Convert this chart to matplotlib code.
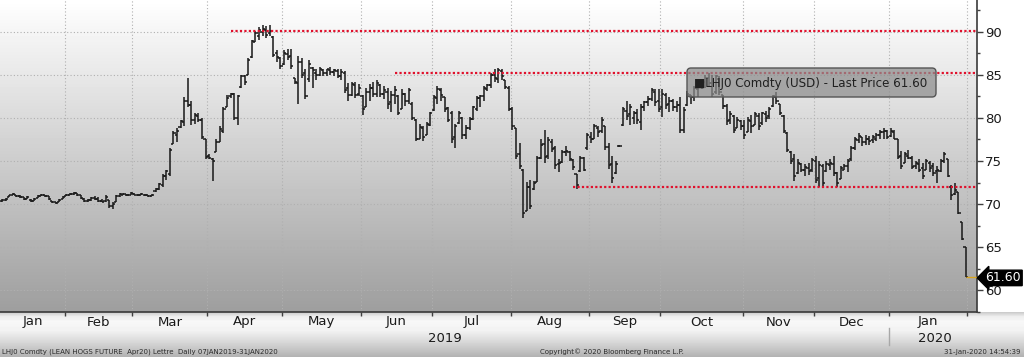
import numpy as np
import matplotlib
matplotlib.use("Agg")
import matplotlib.pyplot as plt
import matplotlib.transforms as mtransforms
from matplotlib.collections import LineCollection
from matplotlib.patches import FancyBboxPatch
from matplotlib.lines import Line2D

# ---------------- data: daily OHLC bars (open, high, low, close) ----------------
jan19 = [(70.4,70.6,70.3,70.5),(70.5,70.7,70.4,70.6),(70.8,71.1,70.8,71.0),(71.0,71.3,71.0,71.2),
         (71.1,71.1,70.8,70.9),(70.9,71.0,70.7,70.8),(70.8,70.8,70.5,70.6),(70.6,70.9,70.6,70.8),
         (70.5,70.6,70.3,70.4),(70.4,70.7,70.4,70.6),(70.7,71.0,70.7,70.9),(70.9,71.2,70.9,71.1),
         (71.1,71.1,70.8,70.9),(70.9,70.9,70.5,70.6),(70.4,70.4,70.1,70.2),(70.2,70.3,70.0,70.1),
         (70.3,70.6,70.3,70.5),(70.6,70.9,70.6,70.8)]
feb19 = [(70.9,71.2,70.9,71.1),(71.1,71.3,71.0,71.2),(71.2,71.4,71.1,71.3),(71.3,71.3,70.9,71.0),
         (71.0,71.0,70.6,70.7),(70.6,70.7,70.3,70.4),(70.4,70.6,70.3,70.5),(70.5,70.8,70.4,70.7),
         (70.7,70.9,70.5,70.6),(70.6,70.8,70.3,70.4),(70.4,70.6,70.2,70.3),(70.4,71.0,70.3,70.8),
         (70.5,70.5,69.6,69.8),(69.8,70.2,69.4,70.0),(70.2,71.0,70.2,70.9),(70.9,71.3,70.8,71.2),
         (71.1,71.3,71.0,71.2),(71.1,71.2,70.9,71.0),(71.1,71.4,71.0,71.3)]
mar19 = [(71.2,71.3,71.0,71.1),(71.1,71.2,70.9,71.0),(71.0,71.3,71.0,71.2),(71.1,71.2,70.9,71.0),
         (71.0,71.1,70.8,70.9),(70.9,71.2,70.9,71.1),(71.5,71.9,71.4,71.8),(71.8,72.4,71.6,72.3),
         (72.2,73.5,72.0,73.3),(73.2,74.0,72.8,73.8),(73.5,76.5,73.3,76.3),(77.0,78.5,77.0,78.2),
         (78.0,78.8,77.2,78.5),(78.9,79.8,78.8,79.6),(79.5,82.4,79.0,82.0),(82.0,84.6,81.2,81.5),
         (81.5,82.0,79.2,79.8),(79.8,80.6,79.3,80.3),(80.2,80.5,79.5,79.8),(79.8,80.0,77.5,77.8),
         (77.5,77.5,75.2,75.5)]
apr19 = [(75.6,75.8,75.2,75.4),(75.2,75.4,72.7,75.0),(76.0,77.5,76.0,77.2),(77.2,79.0,77.2,78.7),
         (78.5,81.2,78.2,81.0),(81.2,82.7,81.2,82.3),(82.5,82.9,82.3,82.8),(82.8,82.9,79.7,80.0),
         (80.0,82.7,79.2,82.5),(83.6,85.0,83.5,84.8),(84.8,85.0,83.8,84.2),(85.0,86.9,85.0,86.7),
         (87.0,89.0,86.9,88.9),(88.8,90.1,88.8,89.8),(89.5,90.5,89.0,90.2),(90.0,90.8,89.5,90.3),
         (90.2,90.6,89.3,89.6),(89.8,90.7,89.5,90.1),(89.4,89.5,87.0,87.3),(87.5,87.8,86.5,87.0),
         (86.9,87.0,85.6,86.0)]
may19 = [(86.2,87.8,86.1,87.5),(87.4,88.0,86.7,87.0),(87.2,88.0,85.7,86.0),(84.6,84.6,83.9,84.2),
         (84.0,87.2,81.6,86.5),(86.5,86.9,84.6,85.0),(85.2,85.7,82.2,82.5),(84.5,86.7,84.2,86.2),
         (85.8,85.9,83.5,85.5),(85.2,85.6,84.4,85.0),(85.0,85.9,84.8,85.7),(85.5,85.7,84.8,85.2),
         (85.2,85.7,84.8,85.6),(85.5,85.9,85.0,85.3),(85.3,85.7,84.8,85.5),(85.4,85.6,84.6,84.8),
         (84.9,85.6,84.4,85.3),(85.2,85.4,82.9,83.2),(83.5,84.0,82.0,82.6),(82.7,84.2,82.5,83.9),
         (83.8,84.2,82.3,82.6),(82.8,83.9,82.5,83.5)]
jun19 = [(82.5,82.7,80.3,81.0),(81.2,83.5,81.2,83.0),(83.0,83.9,82.0,83.5),(83.4,84.2,82.4,82.8),
         (82.8,84.4,82.4,84.0),(83.8,83.9,82.4,82.8),(82.8,83.7,82.2,83.2),(83.0,83.5,81.0,81.6),
         (81.8,83.1,80.7,82.6),(82.6,83.7,81.6,83.2),(82.5,82.6,80.3,80.6),(81.0,83.3,81.0,82.8),
         (82.8,82.9,81.4,82.0),(82.0,83.5,81.6,83.2),(81.6,81.8,79.7,80.0),(79.8,79.9,77.3,77.6),
         (77.6,79.3,77.5,78.9),(78.8,79.1,77.3,77.8),(78.0,79.5,78.0,79.3),(79.2,80.7,79.0,80.5)]
jul19 = [(80.9,82.7,80.8,82.4),(82.3,83.7,81.6,83.3),(83.2,83.5,82.0,82.6),(82.4,82.4,80.7,81.0),
         (81.1,81.2,79.5,79.8),(80.5,80.8,77.1,77.5),(77.8,79.3,76.5,79.0),(79.4,80.8,79.3,80.5),
         (80.0,80.1,77.6,78.0),(78.0,79.2,77.6,78.8),(78.8,80.1,78.6,79.9),(79.9,81.4,79.7,81.2),
         (81.0,82.5,80.8,82.3),(82.3,82.7,81.2,82.5),(82.5,83.7,82.0,83.5),(83.3,83.9,83.1,83.8),
         (83.8,85.2,83.5,85.0),(85.0,85.6,84.2,84.6),(84.5,85.8,84.0,85.5),(85.4,85.6,84.4,84.8),
         (84.4,84.4,83.3,83.6),(83.5,83.7,80.8,81.0)]
aug19 = [(81.0,81.2,78.6,79.0),(78.8,78.8,75.2,75.6),(75.8,77.1,74.1,74.4),(74.0,74.1,68.4,69.0),
         (69.2,72.6,69.2,72.0),(72.0,72.8,69.4,69.8),(71.8,72.7,71.6,72.5),(72.6,75.6,72.6,75.4),
         (75.4,77.5,75.2,76.8),(77.0,78.6,74.8,75.5),(75.6,77.8,75.2,77.4),(77.2,77.5,76.0,76.4),
         (76.5,76.7,74.1,74.5),(74.6,75.2,73.7,74.8),(74.9,76.3,74.8,76.0),(76.0,76.7,75.6,76.2),
         (76.0,76.1,75.0,75.2),(75.1,75.2,74.0,74.3),(73.5,73.5,71.8,72.2),(73.8,75.6,73.7,75.4),
         (75.4,75.5,73.8,74.0),(76.5,78.2,76.3,78.0)]
sep19 = [(77.8,78.4,77.1,77.6),(77.6,79.3,77.5,79.0),(78.8,79.1,77.8,78.3),(78.5,80.1,78.2,79.8),
         (79.0,79.0,76.3,76.6),(76.6,77.1,74.1,74.5),(74.6,75.6,72.4,73.0),(73.6,75.0,73.5,74.6),
         (76.7,76.8,76.6,76.7),(79.2,81.2,79.0,81.0),(80.8,82.0,79.7,80.2),(80.4,81.6,79.2,81.3),
         (80.0,80.8,79.3,80.5),(80.5,81.0,79.3,79.8),(79.5,81.6,78.6,81.3),(81.2,82.0,80.8,81.8),
         (81.8,82.5,81.4,82.2),(82.2,83.5,82.0,83.2),(83.0,83.3,81.4,81.8),(82.0,83.3,80.7,81.0)]
oct19 = [(81.2,83.3,80.1,82.8),(82.6,82.9,81.0,81.5),(81.6,82.4,80.7,82.0),(82.0,82.2,80.8,81.2),
         (81.2,82.0,80.7,81.5),(81.5,82.4,78.2,78.6),(78.6,81.2,78.2,80.9),(81.5,83.1,81.4,82.8),
         (82.6,82.7,81.6,82.4),(82.4,83.7,82.0,83.5),(83.3,84.0,82.4,83.8),(83.6,84.4,83.3,84.2),
         (84.2,85.0,83.5,84.6),(84.6,85.2,83.7,84.0),(84.0,85.0,82.4,82.8),(83.0,85.0,82.8,84.8),
         (84.5,84.8,82.7,83.0),(82.6,82.7,81.0,81.4),(81.4,81.6,79.2,79.6),(79.8,80.8,79.3,80.4),
         (80.2,80.3,78.2,78.6),(78.8,80.1,78.8,79.8),(79.6,79.7,78.6,79.0)]
nov19 = [(79.0,79.7,77.6,78.0),(78.4,80.1,78.4,79.8),(79.6,80.3,78.2,79.0),(79.2,80.7,79.2,80.4),
         (80.2,80.5,78.6,79.0),(79.4,80.7,79.2,80.5),(80.4,80.8,79.5,80.0),(80.2,81.2,79.9,81.0),
         (81.4,82.7,81.2,82.5),(82.4,83.0,81.6,82.0),(81.6,81.6,80.3,80.6),(80.2,80.3,78.2,78.5),
         (78.2,78.4,76.0,76.3),(76.0,76.1,74.6,75.0),(75.2,75.8,72.7,73.2),(73.6,75.2,73.5,74.8),
         (74.6,74.8,73.7,74.0),(74.0,74.6,73.3,74.3),(74.2,74.8,73.4,73.8),(73.9,75.4,73.7,75.1)]
dec19 = [(75.0,75.6,72.4,72.8),(73.0,75.0,72.0,74.5),(74.4,74.6,72.0,72.5),(73.8,75.0,73.7,74.6),
         (74.5,75.2,74.0,74.8),(74.6,75.6,73.3,73.6),(73.6,73.7,72.0,72.4),(72.9,74.4,72.9,74.2),
         (74.0,74.6,73.9,74.4),(74.4,75.2,73.7,75.0),(75.2,76.7,75.0,76.5),(76.5,77.8,76.3,77.6),
         (77.4,78.2,77.1,77.9),(77.8,77.8,76.7,77.2),(77.2,78.0,76.9,77.6),(77.5,77.9,76.9,77.3),
         (77.4,78.0,77.1,77.8),(77.6,78.2,77.3,78.0),(78.0,78.6,77.5,78.4),(78.3,78.8,77.6,78.5),
         (78.5,78.6,77.5,77.8)]
jan20 = [(77.9,78.8,77.8,78.5),(78.4,78.6,77.5,77.6),(77.5,77.5,75.2,75.5),(75.6,76.1,74.1,74.4),
         (74.8,76.0,74.8,75.8),(75.6,76.3,75.2,75.4),(75.3,75.6,74.1,74.3),(74.4,75.0,74.1,74.8),
         (74.6,75.2,73.7,74.0),(74.2,74.8,72.9,73.2),(74.0,75.2,73.9,75.0),(74.8,75.0,73.7,74.2),
         (74.4,74.8,73.3,73.6),(73.8,74.4,72.4,74.0),(73.8,75.2,73.7,75.0),(75.0,76.0,74.8,75.8),
         (75.2,75.2,73.1,73.3),(72.0,72.2,70.5,71.0),(71.2,72.5,71.0,71.6),(71.4,71.4,68.8,69.0),
         (67.9,67.9,65.8,66.0),(65.0,65.0,61.6,61.6)]

month_names = ["Jan", "Feb", "Mar", "Apr", "May", "Jun", "Jul", "Aug", "Sep", "Oct", "Nov", "Dec", "Jan"]
month_bars = [jan19, feb19, mar19, apr19, may19, jun19, jul19, aug19, sep19, oct19, nov19, dec19, jan20]
year_labels = ["2019", "2020"]
y_ticks = [60, 65, 70, 75, 80, 85, 90]
last_price = 61.60
# hand-drawn support / resistance lines: (level, starting bar index)
trend_levels = [90.1, 85.15, 71.95]
trend_starts = [64, 110, 160]

title_text = "LHJ0 Comdty (LEAN HOGS FUTURE  Apr20) Lettre  Daily 07JAN2019-31JAN2020"
copyright_text = "Copyright\u00a9 2020 Bloomberg Finance L.P."
stamp_text = "31-Jan-2020 14:54:39"
legend_text = "\u25a0LHJ0 Comdty (USD) - Last Price 61.60"

# ---------------- figure ----------------
W, H = 1024, 357
PW, PH = 977, 312  # plot area size in pixels
fig = plt.figure(figsize=(W / 100, H / 100), dpi=100)

# background gradients
img = np.ones((H, W))
ys = np.arange(PH)
img[:PH, :PW] = (1.0 - 0.38 * ys / (PH - 1))[:, None]
band_y = np.arange(PH, H)
band = np.interp(band_y, [312, 316, 321, 330, 342, 356], [0.80, 0.93, 0.97, 0.95, 0.84, 0.70])
img[PH:, :] = band[:, None]
bg = fig.add_axes([0, 0, 1, 1], zorder=0)
bg.imshow(img, cmap="gray", vmin=0, vmax=1, aspect="auto", interpolation="bilinear")
bg.axis("off")

ax = fig.add_axes([0, (H - PH) / H, PW / W, PH / H], zorder=1)
ax.set_facecolor("none")

bars = [b for m in month_bars for b in m]
n = len(bars)
segs = []
tw = 0.6
for i, (o, h, l, c) in enumerate(bars):
    segs.append([(i, l), (i, h)])
    segs.append([(i - tw, o), (i, o)])
    segs.append([(i, c), (i + tw, c)])
ax.add_collection(LineCollection(segs, colors="#181818", linewidths=1.1, zorder=3))

xmin, xmax = -0.6, 273.2
ax.set_xlim(xmin, xmax)
ax.set_ylim(58.38, 93.65)

# month boundaries
lengths = [len(m) for m in month_bars]
edges = np.concatenate([[-0.5], np.cumsum(lengths) - 0.5])
ax.set_xticks(edges[1:])
ax.tick_params(axis="x", length=3, width=1, color="#404040", labelbottom=False)

# y axis on right
ax.yaxis.tick_right()
ax.set_yticks(y_ticks)
ax.set_yticklabels([str(v) for v in y_ticks])
ax.set_yticks([v + 2.5 for v in y_ticks[:-1]] + [57.5, 92.5], minor=True)
ax.tick_params(axis="y", which="major", length=4, width=1, color="#404040", pad=2,
               labelsize=9.5, labelcolor="#1a1a1a")
ax.tick_params(axis="y", which="minor", length=2.5, width=1, color="#404040")

for s in ["left", "top"]:
    ax.spines[s].set_visible(False)
for s in ["bottom", "right"]:
    ax.spines[s].set_color("#3a3a3a")
    ax.spines[s].set_linewidth(1.2)

ax.grid(True, which="major", linestyle=(0, (1, 2)), color="#b0b0b0", linewidth=0.8, zorder=1)

# support / resistance lines
for lvl, st in zip(trend_levels, trend_starts):
    ax.hlines(lvl, st, xmax, colors="#e0102c", linestyles=(0, (1, 1)), linewidth=1.6, zorder=4)

# last price line + tag
ax.hlines(last_price, n - 1, xmax, colors="#d9a520", linewidth=1.0, zorder=4)
btf = mtransforms.blended_transform_factory(ax.transAxes, ax.transData)
ax.text(1.0085, last_price - 0.15, f"{last_price:.2f}", transform=btf, ha="left", va="center",
        fontsize=9, color="white", zorder=10, clip_on=False,
        bbox=dict(boxstyle="larrow,pad=0.1", fc="black", ec="black"))

# month & year labels
xf = mtransforms.blended_transform_factory(ax.transData, fig.transFigure)
for k, name in enumerate(month_names):
    cx = (edges[k] + edges[k + 1]) / 2
    fig.text(cx, 1 - 322 / H, name, transform=xf, ha="center", va="center",
             fontsize=9.5, color="#1a1a1a")
fig.text((edges[0] + edges[12]) / 2, 1 - 338 / H, year_labels[0], transform=xf,
         ha="center", va="center", fontsize=9.5, color="#1a1a1a")
fig.text((edges[12] + edges[13]) / 2 + 2, 1 - 338 / H, year_labels[1], transform=xf,
         ha="center", va="center", fontsize=9.5, color="#1a1a1a")
fig.add_artist(Line2D([edges[12], edges[12]], [1 - 345 / H, 1 - 328 / H], transform=xf,
                      color="#a8a8a8", linewidth=1))

# footer
fig.text(2 / W, 1 - 352 / H, title_text, ha="left", va="center", fontsize=5, color="#2a2a2a")
fig.text(540 / W, 1 - 352 / H, copyright_text, ha="left", va="center", fontsize=5, color="#2a2a2a")
fig.text(1021 / W, 1 - 352 / H, stamp_text, ha="right", va="center", fontsize=5, color="#2a2a2a")

# legend box
box = FancyBboxPatch((687, H - 97), 249, 29, boxstyle="round,pad=0,rounding_size=4",
                     transform=mtransforms.IdentityTransform(), fc=(0.55, 0.55, 0.55, 0.72),
                     ec="#555555", lw=1.0, zorder=20)
fig.add_artist(box)
fig.text(694 / W, 1 - 83 / H, legend_text, ha="left", va="center", fontsize=8.6,
         color="#202020", zorder=21)

fig.savefig("out.png", dpi=100)
